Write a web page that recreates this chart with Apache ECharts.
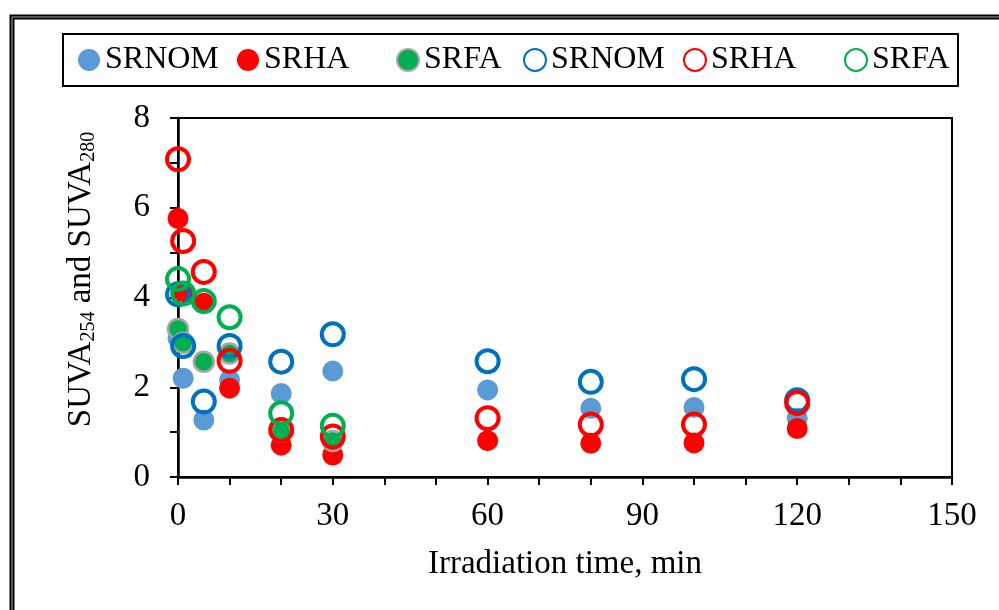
<!DOCTYPE html>
<html>
<head>
<meta charset="utf-8">
<script src="https://cdn.jsdelivr.net/npm/echarts@6/dist/echarts.min.js"></script>
<style>
  html, body { margin: 0; padding: 0; background: #fff; }
  #main { width: 999px; height: 610px; }
</style>
</head>
<body>
<div id="main"></div>
<script>
// sampling times, min
var times = [0, 1, 5, 10, 20, 30, 60, 80, 100, 120];

// filled markers (SUVA280)
var srnomFilled = [3.09, 2.20, 1.27, 2.16, 1.86, 2.36, 1.94, 1.53, 1.55, 1.31];
var srhaFilled  = [5.76, 4.13, 3.87, 1.98, 0.71, 0.49, 0.81, 0.75, 0.76, 1.08];
var srfaFilled  = [3.30, 2.99, 2.57, 2.75, 1.01, 0.80];

// open markers (SUVA254)
var srnomOpen = [4.07, 2.92, 1.68, 2.92, 2.57, 3.18, 2.58, 2.12, 2.18, 1.71];
var srhaOpen  = [7.08, 5.26, 4.57, 2.59, 1.05, 0.90, 1.31, 1.17, 1.17, 1.65];
var srfaOpen  = [4.41, 4.09, 3.92, 3.56, 1.42, 1.14];

var xTicks = [0, 30, 60, 90, 120, 150];
var yTicks = [0, 2, 4, 6, 8];

var font = 'Liberation Serif';

function pairs(vals) {
    return vals.map(function (v, i) { return [times[i], v]; });
}

function filled(name, vals, color, border) {
    return {
        name: name, type: 'scatter', symbol: 'circle', symbolSize: border ? 20 : 21,
        data: pairs(vals),
        itemStyle: {
            color: color, opacity: 1,
            borderColor: border || color, borderWidth: border ? 2.5 : 0
        }
    };
}

function open(name, vals, color) {
    return {
        name: name, type: 'scatter', symbol: 'circle', symbolSize: 22,
        data: pairs(vals),
        itemStyle: { color: 'rgba(0,0,0,0)', borderColor: color, borderWidth: 4, opacity: 1 }
    };
}

var names = ['SRNOM-f', 'SRHA-f', 'SRFA-f', 'SRNOM-o', 'SRHA-o', 'SRFA-o'];
var legendX = [78, 237, 396, 523, 683, 844];

var legends = names.map(function (n, i) {
    return {
        data: [n], left: legendX[i], top: 44, padding: 0,
        itemWidth: 22, itemHeight: 22, selectedMode: false,
        formatter: function (s) { return s.split('-')[0]; },
        textStyle: { fontFamily: font, fontSize: 32, color: '#000' }
    };
});

var myChart = echarts.init(document.getElementById('main'));
myChart.setOption({
    animation: false,
    backgroundColor: '#fff',
    graphic: [
        { type: 'rect', shape: { x: 12, y: 17, width: 1000, height: 600 },
          style: { fill: 'none', stroke: '#000', lineWidth: 5 } },
        { type: 'rect', shape: { x: 12, y: 17, width: 1000, height: 600 },
          style: { fill: 'none', stroke: '#aaa', lineWidth: 1 } },
        { type: 'rect', shape: { x: 63, y: 34, width: 895, height: 52 },
          style: { fill: 'none', stroke: '#000', lineWidth: 2 } }
    ],
    legend: legends,
    grid: {
        left: 178, right: 47, top: 118, bottom: 133,
        show: true, borderColor: '#000', borderWidth: 2
    },
    xAxis: {
        type: 'value', min: 0, max: 150, interval: 30,
        axisLine: { onZero: false, lineStyle: { color: '#000', width: 2.5 } },
        axisTick: { length: 8, lineStyle: { color: '#000', width: 2 } },
        minorTick: { show: true, splitNumber: 3, length: 8, lineStyle: { color: '#000', width: 2 } },
        splitLine: { show: false },
        axisLabel: {
            fontFamily: font, fontSize: 33, color: '#000', margin: 23,
            formatter: function (v) { return xTicks.indexOf(v) >= 0 ? String(v) : ''; }
        },
        name: 'Irradiation time, min', nameLocation: 'middle', nameGap: 71,
        nameTextStyle: { fontFamily: font, fontSize: 33, color: '#000' }
    },
    yAxis: {
        type: 'value', min: 0, max: 8, interval: 2,
        axisLine: { show: true, onZero: false, lineStyle: { color: '#000', width: 2.5 } },
        axisTick: { show: true, length: 8, lineStyle: { color: '#000', width: 2 } },
        minorTick: { show: true, splitNumber: 2, length: 8, lineStyle: { color: '#000', width: 2 } },
        splitLine: { show: false },
        axisLabel: {
            fontFamily: font, fontSize: 33, color: '#000', margin: 28,
            formatter: function (v) { return yTicks.indexOf(v) >= 0 ? String(v) : ''; }
        },
        name: '{a|SUVA}{s|254}{a| and SUVA}{s|280}',
        nameLocation: 'middle', nameGap: 79,
        nameTextStyle: {
            padding: [0, 0, 0, 36],
            rich: {
                a: { fontFamily: font, fontSize: 33, color: '#000', lineHeight: 34, verticalAlign: 'top' },
                s: { fontFamily: font, fontSize: 20, color: '#000', lineHeight: 20, verticalAlign: 'bottom' }
            },
            lineHeight: 44
        }
    },
    series: [
        filled(names[0], srnomFilled, '#5B9BD5'),
        filled(names[1], srhaFilled, '#FF0000'),
        filled(names[2], srfaFilled, '#00B050', '#A5A5A5'),
        open(names[3], srnomOpen, '#0070C0'),
        open(names[4], srhaOpen, '#FF0000'),
        open(names[5], srfaOpen, '#00B050')
    ]
});
</script>
</body>
</html>
